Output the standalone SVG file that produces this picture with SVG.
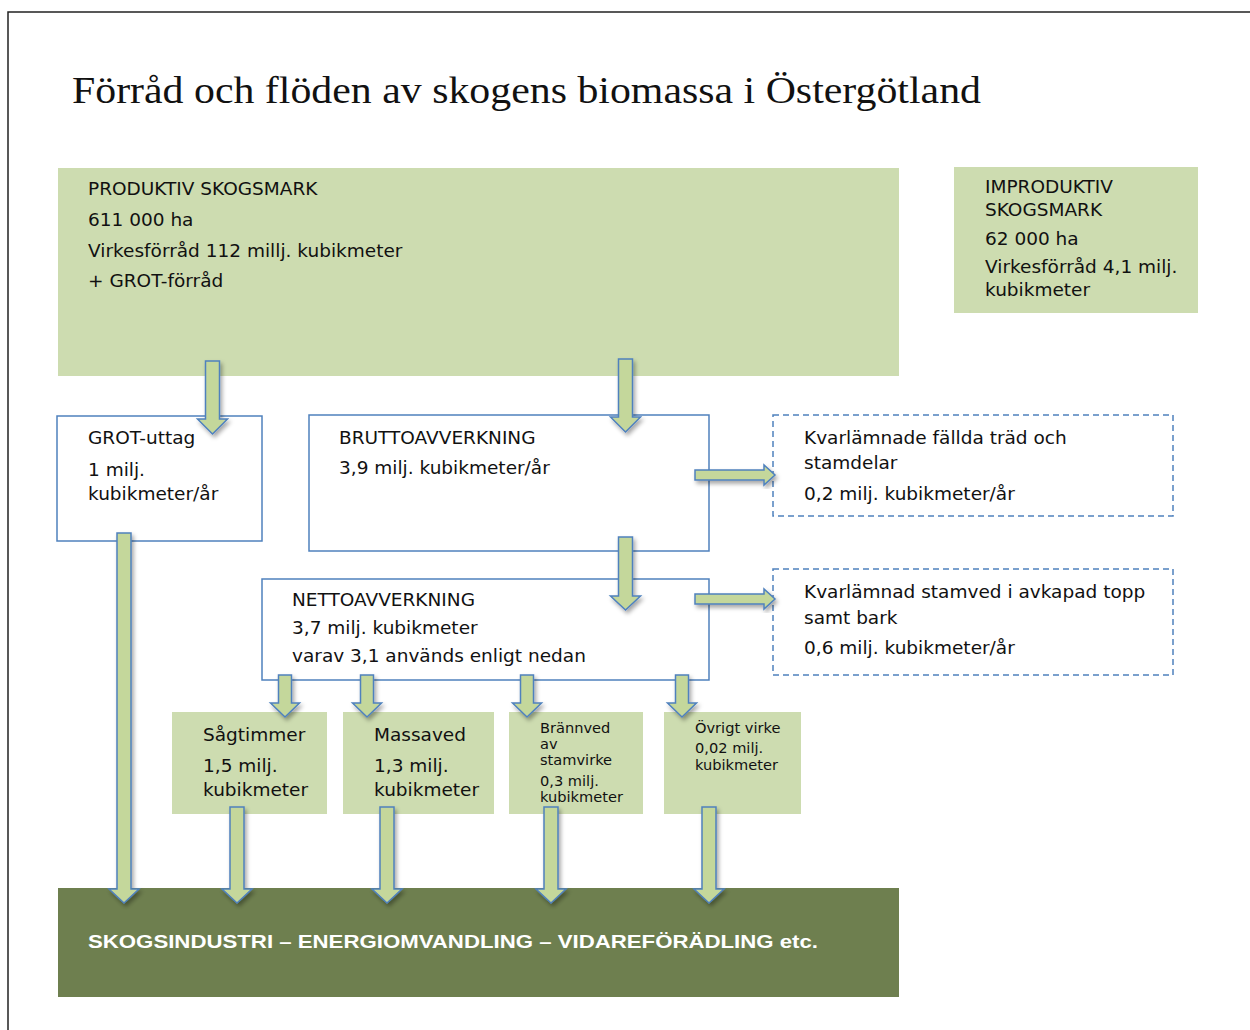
<svg xmlns="http://www.w3.org/2000/svg" width="1250" height="1030" viewBox="0 0 1250 1030">
<defs>
<filter id="sh" x="-50%" y="-20%" width="200%" height="140%">
<feDropShadow dx="2" dy="3" stdDeviation="2" flood-color="#000" flood-opacity="0.35"/>
</filter>
<filter id="lsh" x="-5%" y="-200%" width="110%" height="600%">
<feDropShadow dx="0" dy="3" stdDeviation="3" flood-color="#000" flood-opacity="0.2"/>
</filter>
<style>
.t{font-family:"DejaVu Sans",Verdana,sans-serif;font-size:18.5px;fill:#111}
.s{font-family:"DejaVu Sans",Verdana,sans-serif;font-size:14.6px;fill:#111}
.lg{fill:#cddcb0}
.wb{fill:#fff;stroke:#4f81bd;stroke-width:1.5}
.db{fill:#fff;stroke:#4f81bd;stroke-width:1.5;stroke-dasharray:6 4}
.ar{fill:#c4d79b;stroke:#4f81bd;stroke-width:1.5;filter:url(#sh)}
</style>
</defs>
<rect width="1250" height="1030" fill="#fff"/>
<path d="M8,1030 V12 H1250" fill="none" stroke="#222" stroke-width="1.5"/>
<text x="72" y="103" font-family="'Liberation Serif','Times New Roman',serif" font-size="38" fill="#111" textLength="909" lengthAdjust="spacingAndGlyphs">Förråd och flöden av skogens biomassa i Östergötland</text>
<line x1="57" y1="133" x2="1233" y2="133" stroke="#b3c497" stroke-width="2" filter="url(#lsh)"/>

<g id="produktiv">
<rect class="lg" x="58" y="168" width="841" height="208"/>
<text class="t" x="88" y="195">PRODUKTIV SKOGSMARK</text>
<text class="t" x="88" y="226">611 000 ha</text>
<text class="t" x="88" y="257">Virkesförråd 112 millj. kubikmeter</text>
<text class="t" x="88" y="287">+ GROT-förråd</text>
</g>
<g id="improduktiv">
<rect class="lg" x="954" y="167" width="244" height="146"/>
<text class="t" x="985" y="193">IMPRODUKTIV</text>
<text class="t" x="985" y="216">SKOGSMARK</text>
<text class="t" x="985" y="245">62 000 ha</text>
<text class="t" x="985" y="273">Virkesförråd 4,1 milj.</text>
<text class="t" x="985" y="296">kubikmeter</text>
</g>
<g id="grot">
<rect class="wb" x="57" y="416" width="205" height="125"/>
<text class="t" x="88" y="444">GROT-uttag</text>
<text class="t" x="88" y="476">1 milj.</text>
<text class="t" x="88" y="500">kubikmeter/år</text>
</g>
<g id="brutto">
<rect class="wb" x="309" y="415" width="400" height="136"/>
<text class="t" x="339" y="444">BRUTTOAVVERKNING</text>
<text class="t" x="339" y="474">3,9 milj. kubikmeter/år</text>
</g>
<g id="kvar1">
<rect class="db" x="773" y="415" width="400" height="101"/>
<text class="t" x="804" y="444">Kvarlämnade fällda träd och</text>
<text class="t" x="804" y="469">stamdelar</text>
<text class="t" x="804" y="500">0,2 milj. kubikmeter/år</text>
</g>
<g id="netto">
<rect class="wb" x="262" y="579" width="447" height="101"/>
<text class="t" x="292" y="606">NETTOAVVERKNING</text>
<text class="t" x="292" y="634">3,7 milj. kubikmeter</text>
<text class="t" x="292" y="662">varav 3,1 används enligt nedan</text>
</g>
<g id="kvar2">
<rect class="db" x="773" y="569" width="400" height="106"/>
<text class="t" x="804" y="598">Kvarlämnad stamved i avkapad topp</text>
<text class="t" x="804" y="624">samt bark</text>
<text class="t" x="804" y="654">0,6 milj. kubikmeter/år</text>
</g>
<g id="sagtimmer">
<rect class="lg" x="172" y="712" width="155" height="102"/>
<text class="t" x="203" y="741">Sågtimmer</text>
<text class="t" x="203" y="772">1,5 milj.</text>
<text class="t" x="203" y="796">kubikmeter</text>
</g>
<g id="massaved">
<rect class="lg" x="343" y="712" width="151" height="102"/>
<text class="t" x="374" y="741">Massaved</text>
<text class="t" x="374" y="772">1,3 milj.</text>
<text class="t" x="374" y="796">kubikmeter</text>
</g>
<g id="brannved">
<rect class="lg" x="509" y="712" width="134" height="102"/>
<text class="s" x="540" y="733">Brännved</text>
<text class="s" x="540" y="749">av</text>
<text class="s" x="540" y="765">stamvirke</text>
<text class="s" x="540" y="786">0,3 milj.</text>
<text class="s" x="540" y="802">kubikmeter</text>
</g>
<g id="ovrigt">
<rect class="lg" x="664" y="712" width="137" height="102"/>
<text class="s" x="695" y="733">Övrigt virke</text>
<text class="s" x="695" y="753">0,02 milj.</text>
<text class="s" x="695" y="770">kubikmeter</text>
</g>
<g id="industri">
<rect x="58" y="888" width="841" height="109" fill="#6e7f4f"/>
<text x="88" y="948" font-family="'Liberation Sans',Arial,sans-serif" font-size="19" font-weight="bold" fill="#fff" textLength="730" lengthAdjust="spacingAndGlyphs">SKOGSINDUSTRI – ENERGIOMVANDLING – VIDAREFÖRÄDLING etc.</text>
</g>

<g id="connectors">
<path class="ar" d="M205.5,361 H219.5 V419 H227.5 L212.5,434 L197.5,419 H205.5 Z"/>
<path class="ar" d="M618.5,359 H632.5 V417 H640.5 L625.5,432 L610.5,417 H618.5 Z"/>
<path class="ar" d="M618.5,537 H632.5 V596 H640.5 L625.5,610 L610.5,596 H618.5 Z"/>
<path class="ar" d="M695,470 H764 V465 L775,475 L764,485 V480 H695 Z"/>
<path class="ar" d="M695,594 H764 V589 L775,599 L764,609 V604 H695 Z"/>
<path class="ar" d="M278.5,675 H291.5 V703 H299.5 L285,717 L270.5,703 H278.5 Z"/>
<path class="ar" d="M360.5,675 H373.5 V703 H381.5 L367,717 L352.5,703 H360.5 Z"/>
<path class="ar" d="M520.5,675 H533.5 V703 H541.5 L527,717 L512.5,703 H520.5 Z"/>
<path class="ar" d="M675.5,675 H688.5 V703 H696.5 L682,717 L667.5,703 H675.5 Z"/>
<path class="ar" d="M117,533 H131 V889 H139 L124,903 L109,889 H117 Z"/>
<path class="ar" d="M230,807 H244 V889 H252 L237,903 L222,889 H230 Z"/>
<path class="ar" d="M380,807 H394 V889 H402 L387,903 L372,889 H380 Z"/>
<path class="ar" d="M544,807 H558 V889 H566 L551,903 L536,889 H544 Z"/>
<path class="ar" d="M702,807 H716 V889 H724 L709,903 L694,889 H702 Z"/>
</g>
</svg>
